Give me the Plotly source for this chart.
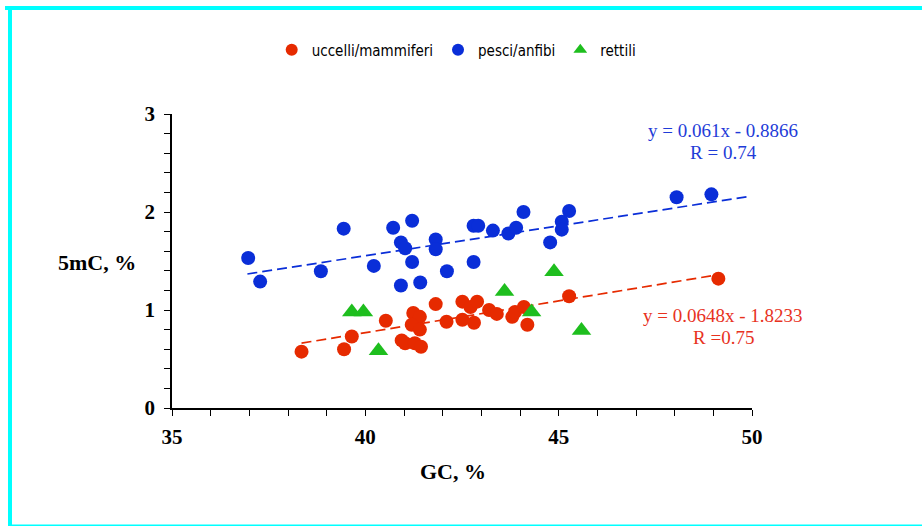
import plotly.graph_objects as go

# ---- data ----
red_x = [38.35, 39.45, 39.65, 40.53, 40.94, 41.03, 41.28, 41.44, 41.24, 41.41, 41.20, 41.41,
         41.82, 42.10, 42.51, 42.51, 42.72, 42.89, 42.81, 43.20, 43.40, 43.80, 43.87, 44.10,
         44.19, 45.27, 49.13]
red_y = [0.575, 0.60, 0.73, 0.89, 0.69, 0.66, 0.66, 0.625, 0.97, 0.93, 0.85, 0.80,
         1.06, 0.88, 1.085, 0.90, 1.03, 1.085, 0.87, 1.00, 0.96, 0.93, 0.98, 1.03,
         0.85, 1.14, 1.32]

blue_x = [36.97, 37.28, 38.85, 39.44, 40.22, 40.72, 40.92, 41.03, 41.21, 41.21, 40.92, 41.42,
          41.82, 41.82, 42.11, 42.80, 42.92, 42.80, 43.30, 43.70, 43.90, 44.09, 44.78, 45.08,
          45.08, 45.27, 48.05, 48.95]
blue_y = [1.53, 1.29, 1.395, 1.83, 1.45, 1.84, 1.69, 1.63, 1.91, 1.49, 1.25, 1.28,
          1.72, 1.62, 1.395, 1.86, 1.86, 1.49, 1.81, 1.78, 1.84, 2.00, 1.69, 1.90,
          1.82, 2.01, 2.15, 2.18]

green_x = [39.65, 39.95, 40.34, 43.60, 44.30, 44.88, 45.59]
green_y = [0.98, 0.98, 0.585, 1.19, 0.98, 1.39, 0.79]

# regression (slope, intercept) and line x ranges
red_fit = (0.0648, -1.8233)
red_fit_x = [38.35, 49.1]
blue_fit = (0.061, -0.8866)
blue_fit_x = [36.95, 49.86]

series_names = ["uccelli/mammiferi", "pesci/anfibi", "rettili"]
x_ticks = [35, 40, 45, 50]
y_ticks = [0, 1, 2, 3]

RED = "#e62a00"
BLUE = "#0a2ed8"
GREEN = "#1ebe1e"
CYAN = "#00ffff"

fig = go.Figure()

# trend lines
for (m, b), xs, col in [(red_fit, red_fit_x, RED), (blue_fit, blue_fit_x, BLUE)]:
    fig.add_trace(go.Scatter(x=xs, y=[m * v + b for v in xs], mode="lines",
                             line=dict(color=col, width=1.7, dash="10px,5px"),
                             showlegend=False, hoverinfo="skip"))

fig.add_trace(go.Scatter(x=red_x, y=red_y, mode="markers", name=series_names[0],
                         marker=dict(symbol="circle", size=14, color=RED)))
fig.add_trace(go.Scatter(x=blue_x, y=blue_y, mode="markers", name=series_names[1],
                         marker=dict(symbol="circle", size=14, color=BLUE)))
fig.add_trace(go.Scatter(x=green_x, y=green_y, mode="markers", name=series_names[2],
                         marker=dict(symbol="triangle-up", size=17, color=GREEN)))

L, R, T, B = 172, 170, 114, 118
W, H = 922, 526
pw, ph = W - L - R, H - T - B


def px2paper(x, y):
    return (x - L) / pw, (H - B - y) / ph


serif = "Liberation Serif, Times New Roman, serif"
tickfont = dict(family=serif, size=21, color="black", weight="bold")

fig.update_layout(
    width=W, height=H,
    margin=dict(l=L, r=R, t=T, b=B),
    paper_bgcolor="white", plot_bgcolor="white",
    showlegend=True,
    legend=dict(orientation="h", x=0.49, xanchor="center", y=px2paper(0, 50)[1], yanchor="middle",
                font=dict(family="DejaVu Sans Condensed, Liberation Sans Narrow, sans-serif", size=15, color="black"),
                itemwidth=30, tracegroupgap=0, itemsizing="constant", bgcolor="rgba(0,0,0,0)"),
    xaxis=dict(range=[35, 50], tickvals=x_ticks, ticktext=[str(v) for v in x_ticks],
               showgrid=False, zeroline=False, showline=True, linecolor="black", linewidth=1.5,
               ticks="outside", ticklen=6, tickwidth=1.2, tickcolor="black",
               minor=dict(dtick=1, tick0=35, ticks="outside", ticklen=6, tickwidth=1.2, tickcolor="black", showgrid=False),
               tickfont=tickfont, ticklabelstandoff=3),
    yaxis=dict(range=[0, 3], tickvals=y_ticks, ticktext=[str(v) for v in y_ticks],
               showgrid=False, zeroline=False, showline=True, linecolor="black", linewidth=1.5,
               ticks="outside", ticklen=6, tickwidth=1.2, tickcolor="black",
               minor=dict(dtick=0.2, tick0=0, ticks="outside", ticklen=6, tickwidth=1.2, tickcolor="black", showgrid=False),
               tickfont=tickfont, ticklabelstandoff=5),
)


def label(px, py, text, size, color, bold=False):
    ax, ay = px2paper(px, py)
    fig.add_annotation(x=ax, y=ay, xref="paper", yref="paper", xanchor="center", yanchor="middle",
                       text=f"<b>{text}</b>" if bold else text, showarrow=False,
                       font=dict(family=serif, size=size, color=color))


# axis titles
label(97, 262, "5mC, %", 22, "black", bold=True)
label(453, 471, "GC, %", 22, "black", bold=True)

# equation annotations
label(723, 130, "y = 0.061x - 0.8866", 19, "#1f3cd8")
label(723, 152, "R = 0.74", 19, "#1f3cd8")
label(723, 315, "y = 0.0648x - 1.8233", 19, "#e8321e")
label(723, 337, "R =0.75", 19, "#e8321e")


# cyan frame
def rect(x0, y0, x1, y1):
    a0, b0 = px2paper(x0, y1)
    a1, b1 = px2paper(x1, y0)
    fig.add_shape(type="rect", xref="paper", yref="paper", x0=a0, y0=b0, x1=a1, y1=b1,
                  fillcolor=CYAN, line=dict(width=0), layer="below")


rect(5, 6, 922, 10)
rect(8, 6, 12, 526)
rect(8, 524.5, 922, 526)

fig.write_html("out.html")
